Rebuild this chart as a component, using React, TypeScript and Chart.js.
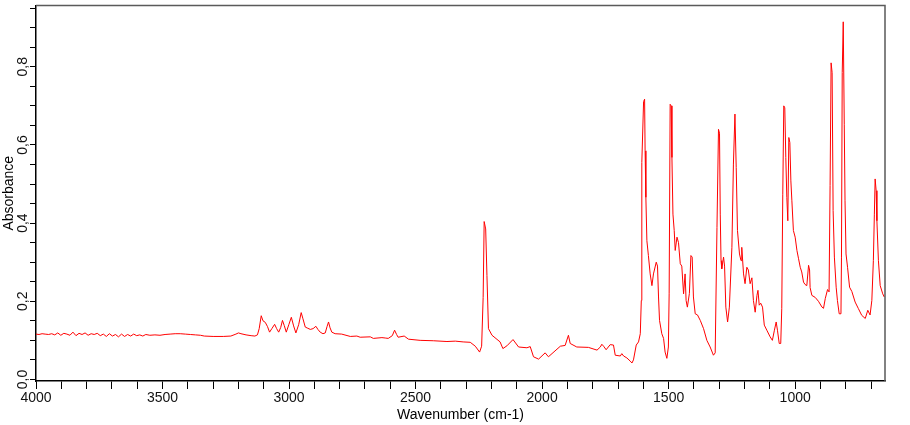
import React, { useEffect, useRef } from 'react';
import { Chart, registerables } from 'chart.js';

Chart.register(...registerables);

// Wavenumber (cm-1)
const wavenumbers: number[] = [
  4000, 3988, 3976, 3964, 3950, 3938, 3926, 3914, 3902, 3890, 3878, 3866, 3854, 3842, 3830, 3818,
  3806, 3794, 3782, 3770, 3758, 3746, 3734, 3722, 3710, 3698, 3686, 3674, 3662, 3650, 3638, 3626,
  3614, 3602, 3590, 3578, 3566, 3550, 3530, 3510, 3490, 3470, 3450, 3430, 3410, 3390, 3370, 3350,
  3335, 3300, 3260, 3230, 3210, 3200, 3190, 3170, 3150, 3135, 3125, 3118, 3110, 3103, 3094, 3085,
  3077, 3068, 3057, 3049, 3041, 3033, 3026, 3019, 3011, 3001, 2991, 2982, 2973, 2962, 2952, 2945,
  2936, 2926, 2916, 2905, 2894, 2886, 2877, 2866, 2857, 2850, 2844, 2838, 2831, 2818, 2792, 2758,
  2732, 2719, 2679, 2667, 2633, 2620, 2608, 2592, 2583, 2575, 2569, 2545, 2528, 2482, 2430, 2376,
  2343, 2312, 2284, 2264, 2247, 2239, 2233, 2229, 2223, 2218, 2212, 2198, 2166, 2155, 2139, 2115,
  2093, 2060, 2047, 2034, 2014, 1988, 1975, 1928, 1909, 1896, 1889, 1863, 1817, 1783, 1770, 1764,
  1757, 1747, 1731, 1718, 1711, 1691, 1685, 1678, 1665, 1652, 1645, 1639, 1628, 1619, 1612, 1608,
  1606, 1599, 1595, 1593, 1590, 1586, 1580, 1573, 1566, 1560, 1549, 1544, 1540, 1536, 1527, 1520,
  1514, 1507, 1501, 1498, 1494, 1490, 1487, 1483, 1478, 1474, 1467, 1461, 1454, 1448, 1441, 1435,
  1431, 1426, 1418, 1412, 1407, 1402, 1395, 1386, 1375, 1362, 1349, 1336, 1323, 1316, 1309, 1303,
  1299, 1296, 1293, 1290, 1283, 1279, 1274, 1267, 1260, 1250, 1244, 1238, 1233, 1228, 1220, 1214,
  1211, 1204, 1198, 1191, 1185, 1178, 1171, 1165, 1158, 1151, 1147, 1142, 1136, 1129, 1122, 1112,
  1099, 1090, 1082, 1075, 1070, 1063, 1057, 1053, 1049, 1045, 1041, 1037, 1033, 1029, 1025, 1021,
  1017, 1013, 1007, 1000, 993, 987, 980, 974, 967, 961, 954, 947, 943, 941, 934, 921,
  908, 894, 888, 881, 872, 866, 862, 858, 854, 850, 845, 838, 833, 826, 819, 817,
  814, 810, 806, 803, 799, 793, 785, 776, 763, 750, 737, 723, 713, 704, 697, 691,
  687, 684, 680, 677, 671, 664, 654, 648,
];

// Absorbance values matching the wavenumbers above
const absorbance: number[] = [
  0.116, 0.115, 0.117, 0.116, 0.115, 0.117, 0.114, 0.119, 0.113, 0.118, 0.116, 0.113, 0.121, 0.112, 0.118, 0.115,
  0.119, 0.113, 0.117, 0.115, 0.118, 0.112, 0.116, 0.110, 0.117, 0.111, 0.115, 0.109, 0.116, 0.110, 0.115, 0.111,
  0.116, 0.112, 0.114, 0.111, 0.115, 0.113, 0.114, 0.113, 0.115, 0.116, 0.117, 0.117, 0.116, 0.115, 0.114, 0.113,
  0.111, 0.110, 0.110, 0.111, 0.116, 0.119, 0.117, 0.114, 0.112, 0.111, 0.114, 0.130, 0.163, 0.150, 0.146, 0.135,
  0.121, 0.130, 0.141, 0.130, 0.121, 0.133, 0.151, 0.138, 0.121, 0.140, 0.159, 0.137, 0.119, 0.140, 0.171, 0.155,
  0.134, 0.131, 0.128, 0.130, 0.136, 0.128, 0.121, 0.117, 0.119, 0.135, 0.147, 0.132, 0.121, 0.117, 0.116, 0.110,
  0.111, 0.108, 0.109, 0.105, 0.107, 0.106, 0.105, 0.112, 0.126, 0.115, 0.108, 0.111, 0.103, 0.100, 0.099, 0.097,
  0.098, 0.096, 0.095, 0.085, 0.070, 0.085, 0.210, 0.404, 0.385, 0.266, 0.130, 0.113, 0.096, 0.079, 0.086, 0.102,
  0.083, 0.081, 0.084, 0.058, 0.052, 0.068, 0.058, 0.085, 0.087, 0.113, 0.092, 0.083, 0.082, 0.075, 0.083, 0.090,
  0.085, 0.076, 0.089, 0.088, 0.062, 0.060, 0.066, 0.060, 0.055, 0.047, 0.042, 0.050, 0.088, 0.096, 0.117, 0.202,
  0.555, 0.711, 0.717, 0.585, 0.466, 0.355, 0.317, 0.270, 0.240, 0.270, 0.300, 0.290, 0.211, 0.151, 0.117, 0.105,
  0.070, 0.054, 0.083, 0.219, 0.704, 0.700, 0.568, 0.423, 0.381, 0.330, 0.364, 0.350, 0.296, 0.290, 0.219, 0.270,
  0.202, 0.185, 0.220, 0.317, 0.313, 0.211, 0.168, 0.165, 0.151, 0.130, 0.100, 0.083, 0.062, 0.068, 0.389, 0.640,
  0.630, 0.423, 0.304, 0.283, 0.313, 0.290, 0.185, 0.147, 0.185, 0.338, 0.551, 0.679, 0.542, 0.381, 0.321, 0.304,
  0.338, 0.270, 0.245, 0.287, 0.280, 0.245, 0.260, 0.202, 0.172, 0.215, 0.228, 0.190, 0.195, 0.185, 0.139, 0.126,
  0.109, 0.100, 0.126, 0.147, 0.126, 0.092, 0.092, 0.181, 0.474, 0.700, 0.695, 0.568, 0.466, 0.406, 0.619, 0.606,
  0.508, 0.457, 0.381, 0.364, 0.330, 0.310, 0.287, 0.275, 0.249, 0.243, 0.240, 0.292, 0.280, 0.235, 0.215, 0.210,
  0.200, 0.185, 0.182, 0.207, 0.230, 0.224, 0.496, 0.810, 0.785, 0.432, 0.313, 0.236, 0.202, 0.168, 0.168, 0.313,
  0.785, 0.915, 0.653, 0.457, 0.321, 0.287, 0.236, 0.225, 0.198, 0.181, 0.164, 0.156, 0.177, 0.165, 0.202, 0.304,
  0.423, 0.513, 0.483, 0.406, 0.304, 0.240, 0.219, 0.211,
];

const xLabelValues: number[] = [4000, 3500, 3000, 2500, 2000, 1500, 1000];
const yLabelValues: number[] = [0, 0.2, 0.4, 0.6, 0.8];

const xMin = 645;
const xMax = 4000;
const yMin = -0.004;
const yMax = 0.957;

const FONT = '"Liberation Sans", Arial, sans-serif';

const frameBorder = {
  id: 'frameBorder',
  afterDraw(chart: any) {
    const { ctx, chartArea } = chart;
    ctx.save();
    ctx.strokeStyle = '#5a5a5a';
    ctx.lineWidth = 1.5;
    ctx.beginPath();
    ctx.moveTo(chartArea.left, chartArea.top);
    ctx.lineTo(chartArea.right, chartArea.top);
    ctx.lineTo(chartArea.right, chartArea.bottom);
    ctx.stroke();
    ctx.restore();
  },
};

export default function App() {
  const canvasRef = useRef<HTMLCanvasElement | null>(null);

  useEffect(() => {
    if (!canvasRef.current) return;
    const points = wavenumbers.map((w, i) => ({ x: w, y: absorbance[i] }));
    const chart = new Chart(canvasRef.current, {
      type: 'line',
      data: {
        datasets: [
          {
            data: points,
            borderColor: '#ff0000',
            borderWidth: 1,
            pointRadius: 0,
            tension: 0,
            fill: false,
          },
        ],
      },
      options: {
        responsive: false,
        animation: false,
        devicePixelRatio: 1,
        layout: { padding: { top: 4, right: 25, bottom: 0, left: 0 } },
        plugins: { legend: { display: false }, tooltip: { enabled: false } },
        scales: {
          x: {
            type: 'linear',
            reverse: true,
            min: xMin,
            max: xMax,
            afterFit: (scale: any) => {
              scale.height = 44;
            },
            border: { display: true, color: '#000', width: 1.5 },
            grid: { display: true, drawOnChartArea: false, drawTicks: true, tickLength: 8, color: '#000', lineWidth: 1 },
            ticks: {
              stepSize: 100,
              includeBounds: false,
              autoSkip: false,
              maxRotation: 0,
              minRotation: 0,
              maxTicksLimit: 100,
              padding: 1,
              color: '#111',
              font: { family: FONT, size: 14 },
              callback: (v: any) => (xLabelValues.includes(Number(v)) ? String(v) : ''),
            },
            title: {
              display: true,
              text: 'Wavenumber (cm-1)',
              color: '#000',
              font: { family: FONT, size: 14 },
              padding: { top: 0, bottom: 1 },
            },
          },
          y: {
            type: 'linear',
            min: yMin,
            max: yMax,
            afterFit: (scale: any) => {
              scale.width = 36;
            },
            border: { display: true, color: '#000', width: 1.5 },
            grid: { display: true, drawOnChartArea: false, drawTicks: true, tickLength: 6, color: '#000', lineWidth: 1 },
            ticks: {
              stepSize: 0.05,
              includeBounds: false,
              autoSkip: false,
              maxTicksLimit: 100,
              minRotation: 90,
              maxRotation: 90,
              crossAlign: 'center',
              padding: -3,
              color: '#111',
              font: { family: FONT, size: 14 },
              callback: (v: any) => {
                const n = Number(v);
                const hit = yLabelValues.find((t) => Math.abs(t - n) < 1e-6);
                return hit === undefined ? '' : hit.toFixed(1).replace('.', ',');
              },
            },
            title: {
              display: true,
              text: 'Absorbance',
              color: '#000',
              font: { family: FONT, size: 14 },
              padding: { top: 1, bottom: 0 },
            },
          },
        },
      },
      plugins: [frameBorder],
    });
    return () => chart.destroy();
  }, []);

  return (
    <div style={{ position: 'fixed', left: 0, top: 0, width: 910, height: 425, background: '#fff' }}>
      <canvas ref={canvasRef} width={910} height={425} style={{ display: 'block' }} />
    </div>
  );
}
